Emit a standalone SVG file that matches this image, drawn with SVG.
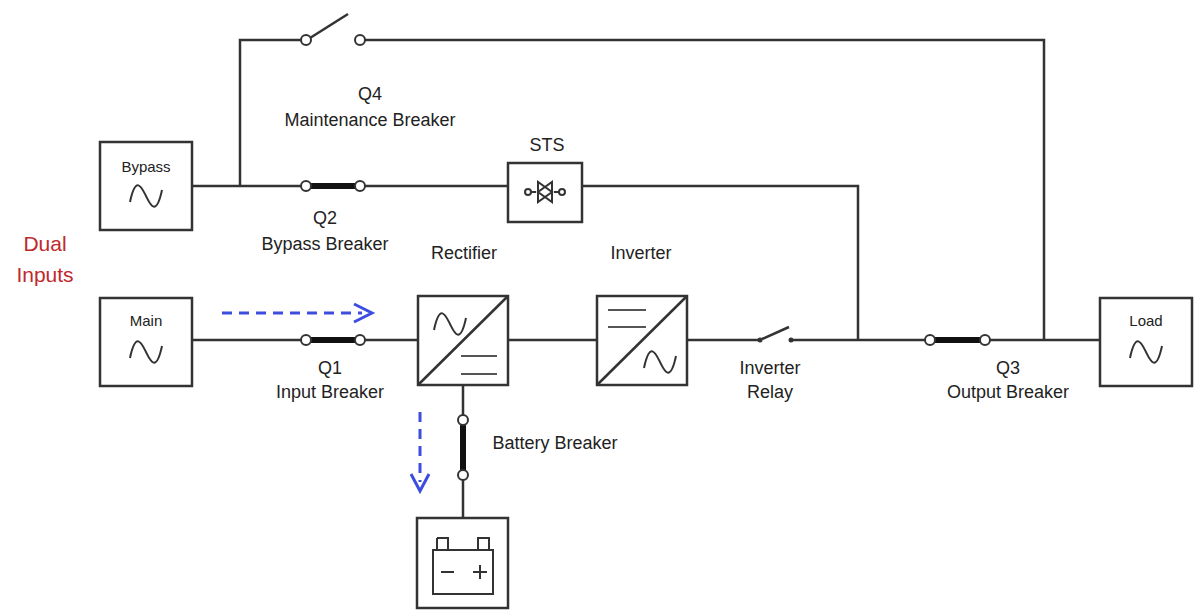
<svg xmlns="http://www.w3.org/2000/svg" width="1198" height="612" viewBox="0 0 1198 612">
<defs>
<style>
.w{stroke:#333;stroke-width:2.5;fill:none}
.b{stroke:#333;stroke-width:2.5;fill:#fff}
.k{stroke:#111;stroke-width:6}
.c{stroke:#333;stroke-width:2;fill:#fff}
text{font-family:"Liberation Sans",Arial,sans-serif;font-size:18px;fill:#222;text-anchor:middle}
.s{font-size:15px}
.d{stroke:#3d4de0;stroke-width:3;stroke-dasharray:10 7;fill:none}
</style>
<path id="sine" d="M-16,6 C-10,-22 -4,-8 0,0 C4,8 10,22 16,-6" fill="none" stroke="#333" stroke-width="2"/>
</defs>
<g id="connectors">
<path class="w" d="M240,186 V40 H306 M360,40 H1044 V340"/>
<path class="w" d="M192,186 H508 M582,186 H858 V340"/>
<path class="w" d="M192,340 H418 M508,340 H597 M687,340 H760 M791,340 H1100"/>
<path class="w" d="M463,385 V518"/>
<line class="w" x1="310" y1="38" x2="348" y2="14"/>
<line class="w" x1="762" y1="339" x2="789" y2="327" stroke-width="1.5"/>
<line class="k" x1="306" y1="186" x2="360" y2="186"/>
<line class="k" x1="306" y1="340" x2="360" y2="340"/>
<line class="k" x1="930" y1="340" x2="985" y2="340"/>
<line class="k" x1="463" y1="420" x2="463" y2="475"/>
<circle class="c" cx="306" cy="40" r="5"/><circle class="c" cx="360" cy="40" r="5"/>
<circle class="c" cx="306" cy="186" r="5"/><circle class="c" cx="360" cy="186" r="5"/>
<circle class="c" cx="306" cy="340" r="5"/><circle class="c" cx="360" cy="340" r="5"/>
<circle class="c" cx="930" cy="340" r="5"/><circle class="c" cx="985" cy="340" r="5"/>
<circle class="c" cx="463" cy="420" r="5"/><circle class="c" cx="463" cy="475" r="5"/>
<circle cx="760" cy="340" r="2.5" fill="#333"/><circle cx="791" cy="340" r="2.5" fill="#333"/>
<path class="d" d="M222,313 H362"/>
<path d="M354,304 L372,313 L354,322" fill="none" stroke="#3d4de0" stroke-width="3"/>
<path class="d" d="M420,412 V482"/>
<path d="M411,474 L420,491 L429,474" fill="none" stroke="#3d4de0" stroke-width="3"/>
</g>
<g id="bypass"><rect class="b" x="100" y="142" width="92" height="88"/><text x="146" y="172" class="s">Bypass</text><use href="#sine" x="146" y="196"/></g>
<g id="main"><rect class="b" x="100" y="298" width="92" height="88"/><text x="146" y="326" class="s">Main</text><use href="#sine" x="146" y="352"/></g>
<g id="load"><rect class="b" x="1100" y="298" width="92" height="88"/><text x="1146" y="326" class="s">Load</text><use href="#sine" x="1146" y="352"/></g>
<g id="sts"><rect class="b" x="508" y="163" width="74" height="59"/>
<path d="M530,192 H536 M554,192 H560" stroke="#333" stroke-width="2"/>
<circle cx="528" cy="192" r="3" class="c"/><circle cx="562" cy="192" r="3" class="c"/>
<path d="M538,182 V202 L552,192 Z M552,182 V202 L538,192 Z" fill="none" stroke="#333" stroke-width="2"/></g>
<g id="rectifier"><rect class="b" x="418" y="296" width="90" height="89"/><line class="w" x1="418" y1="385" x2="508" y2="296" stroke-width="2"/>
<use href="#sine" x="450" y="324"/><path d="M461,356 H497 M461,374 H497" stroke="#555" stroke-width="2"/></g>
<g id="inverter"><rect class="b" x="597" y="296" width="90" height="89"/><line class="w" x1="597" y1="385" x2="687" y2="296" stroke-width="2"/>
<path d="M608,310 H646 M608,327 H646" stroke="#555" stroke-width="2"/><use href="#sine" x="660" y="362"/></g>
<g id="battery"><rect class="b" x="417" y="518" width="91" height="90"/>
<path d="M433,550 H493 V594 H433 Z M437,538 H448 V550 M478,550 V538 H489 V550 M437,538 V550" fill="none" stroke="#333" stroke-width="2"/>
<path d="M441,572 H454 M473,572 H487 M480,565 V579" stroke="#333" stroke-width="2"/></g>
<g id="labels">
<text x="370" y="100">Q4</text><text x="370" y="126">Maintenance Breaker</text>
<text x="547" y="151">STS</text>
<text x="325" y="224">Q2</text><text x="325" y="250">Bypass Breaker</text>
<text x="464" y="259">Rectifier</text><text x="641" y="259">Inverter</text>
<text x="330" y="374">Q1</text><text x="330" y="398">Input Breaker</text>
<text x="770" y="374">Inverter</text><text x="770" y="398">Relay</text>
<text x="1008" y="374">Q3</text><text x="1008" y="398">Output Breaker</text>
<text x="555" y="449">Battery Breaker</text>
<text x="45" y="251" style="fill:#c0282d;font-size:21px">Dual</text><text x="45" y="282" style="fill:#c0282d;font-size:21px">Inputs</text>
</g>
</svg>
